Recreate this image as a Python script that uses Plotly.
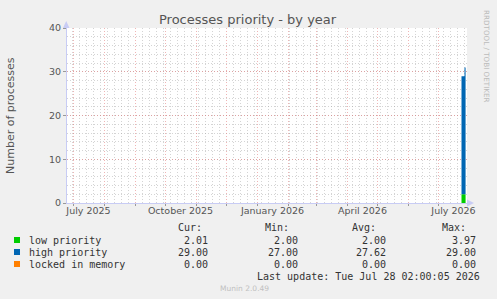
import plotly.graph_objects as go

# ---- data ----
dates = ["2026-07-24", "2026-07-25", "2026-07-26", "2026-07-27", "2026-07-28 02:00"]
low_priority = [2.00, 2.00, 2.00, 2.00, 2.01]
high_priority = [27.0, 27.0, 27.0, 29.0, 29.0]
locked_in_memory = [0.0, 0.0, 0.0, 0.0, 0.0]

series_names = ["low priority", "high priority", "locked in memory"]
series_colors = ["#00CC00", "#0066B3", "#FF8000"]
stats_cur = ["2.01", "29.00", "0.00"]
stats_min = ["2.00", "27.00", "0.00"]
stats_avg = ["2.00", "27.62", "0.00"]
stats_max = ["3.97", "29.00", "0.00"]

x_label_vals = ["2025-07-16", "2025-10-16", "2026-01-16", "2026-04-16", "2026-07-16"]
x_label_text = ["July 2025", "October 2025", "January 2026", "April 2026", "July 2026"]
x_range = ["2025-06-24 12:00", "2026-07-29 12:00"]
y_ticks = [0, 10, 20, 30, 40]

# ---- geometry ----
W, H = 497, 299
L, R, T, B = 67, 467, 28, 203


def px(x):
    return (x - L) / (R - L)


def py(y):
    return (B - y) / (B - T)


fig = go.Figure()
for name, vals, col in zip(series_names, [low_priority, high_priority, locked_in_memory], series_colors):
    fig.add_trace(go.Scatter(
        x=dates, y=vals, name=name, mode="lines", stackgroup="one",
        line=dict(width=0, shape="hv", color=col), fillcolor=col,
        showlegend=False, hoverinfo="skip"))

# invisible trace to activate label axis
fig.add_trace(go.Scatter(x=x_range, y=[None, None], xaxis="x2", showlegend=False,
                         mode="markers", hoverinfo="skip"))

major = "rgba(225,120,120,0.55)"
minor = "rgba(160,160,160,0.45)"
axis_col = "#C8CCF5"
tick_font = dict(family="DejaVu Sans", size=9.5, color="#555555")
dash = "1px,2px"

fig.update_layout(
    width=W, height=H,
    margin=dict(l=L, r=W - R, t=T, b=H - B, pad=0),
    paper_bgcolor="#F0F0F0", plot_bgcolor="#FFFFFF",
    xaxis=dict(
        type="date", range=x_range, showticklabels=False,
        tick0="2025-07-01", dtick="M1", ticks="outside", ticklen=2, tickcolor="#999999",
        showgrid=True, gridcolor=major, griddash=dash, gridwidth=1,
        minor=dict(tick0="2025-06-30", dtick=7 * 86400000, showgrid=True,
                   gridcolor=minor, griddash=dash, gridwidth=1, ticks=""),
        showline=True, linecolor=axis_col, linewidth=1, zeroline=False,
    ),
    xaxis2=dict(
        type="date", range=x_range, overlaying="x", anchor="y", side="bottom",
        tickmode="array", tickvals=x_label_vals, ticktext=x_label_text,
        showgrid=False, showline=False, ticks="", zeroline=False, tickfont=tick_font,
    ),
    yaxis=dict(
        range=[0, 40], tickvals=y_ticks, ticks="outside", ticklen=3, tickcolor="#999999",
        showgrid=True, gridcolor=major, griddash=dash, gridwidth=1,
        minor=dict(dtick=2, showgrid=True, gridcolor=minor, griddash=dash, gridwidth=1),
        showline=True, linecolor=axis_col, linewidth=1, zeroline=False,
        tickfont=tick_font,
    ),
    showlegend=False,
)

ann = []
ann.append(dict(text="Processes priority - by year", x=px(248), y=py(19), xref="paper", yref="paper",
                showarrow=False, xanchor="center", yanchor="middle",
                font=dict(family="DejaVu Sans", size=13, color="#555555")))
ann.append(dict(text="Number of processes", x=px(10), y=py(116), xref="paper", yref="paper",
                showarrow=False, xanchor="center", yanchor="middle", textangle=-90,
                font=dict(family="DejaVu Sans", size=11, color="#555555")))
ann.append(dict(text="RRDTOOL / TOBI OETIKER", x=px(487), y=py(56), xref="paper", yref="paper",
                showarrow=False, xanchor="center", yanchor="middle", textangle=90,
                font=dict(family="DejaVu Sans", size=7.2, color="#BBBBBB")))
ann.append(dict(text="Munin 2.0.49", x=px(244), y=py(288), xref="paper", yref="paper",
                showarrow=False, xanchor="center", yanchor="middle",
                font=dict(family="DejaVu Sans", size=7.5, color="#C0C0C0")))

mono = dict(family="DejaVu Sans Mono", size=10, color="#333333")
head_right = [204, 291, 378, 468]
val_right = [210, 300, 388, 478]
for h, xr in zip(["Cur:", "Min:", "Avg:", "Max:"], head_right):
    ann.append(dict(text=h, x=px(xr), y=py(227), xref="paper", yref="paper", showarrow=False,
                    xanchor="right", yanchor="middle", font=mono))
rows_y = [240, 252, 264]
shapes = []
for i, (name, col) in enumerate(zip(series_names, series_colors)):
    yy = rows_y[i]
    shapes.append(dict(type="rect", xref="paper", yref="paper",
                       x0=px(14), x1=px(20), y0=py(yy + 3), y1=py(yy - 3),
                       fillcolor=col, line=dict(width=0)))
    ann.append(dict(text=name, x=px(27), y=py(yy), xref="paper", yref="paper", showarrow=False,
                    xanchor="left", yanchor="middle", font=mono))
    for vals, xr in zip([stats_cur, stats_min, stats_avg, stats_max], val_right):
        ann.append(dict(text=vals[i], x=px(xr), y=py(yy), xref="paper", yref="paper",
                        showarrow=False, xanchor="right", yanchor="middle", font=mono))
ann.append(dict(text="Last update: Tue Jul 28 02:00:05 2026", x=px(482), y=py(276),
                xref="paper", yref="paper", showarrow=False, xanchor="right", yanchor="middle",
                font=mono))

shapes.append(dict(type="path", xref="paper", yref="paper",
                   path=f"M {px(63)} {py(28)} L {px(69.5)} {py(28)} L {px(66.2)} {py(21)} Z",
                   fillcolor=axis_col, line=dict(width=0)))
shapes.append(dict(type="path", xref="paper", yref="paper",
                   path=f"M {px(467)} {py(199.5)} L {px(467)} {py(206.5)} L {px(474)} {py(203)} Z",
                   fillcolor=axis_col, line=dict(width=0)))

fig.update_layout(annotations=ann, shapes=shapes)
fig.write_html("out.html")
